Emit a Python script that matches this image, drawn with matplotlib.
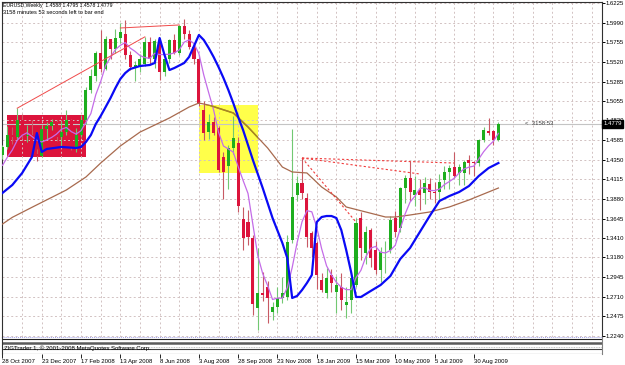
import numpy as np
import pandas as pd
import matplotlib
matplotlib.use("Agg")
import matplotlib.pyplot as plt
from matplotlib import font_manager as fm
from matplotlib.patches import Rectangle

# --- weekly EURUSD bars ---
opens = [
    1.4410, 1.4500, 1.4640, 1.4620, 1.4820, 1.4630, 1.4650, 1.4420, 1.4390, 1.4720,
    1.4750, 1.4800, 1.4620, 1.4680, 1.4830, 1.4500, 1.4650, 1.4830, 1.5180, 1.5350,
    1.5630, 1.5430, 1.5790, 1.5680, 1.5810, 1.5850, 1.5600, 1.5460, 1.5470, 1.5490,
    1.5760, 1.5550, 1.5770, 1.5400, 1.5560, 1.5780, 1.5630, 1.5950, 1.5860, 1.5700,
    1.5560, 1.4940, 1.4680, 1.4800, 1.4730, 1.4380, 1.4280, 1.4490, 1.4550, 1.3640,
    1.3600, 1.3410, 1.2575, 1.2750, 1.2826, 1.2530, 1.2590, 1.2700, 1.2710, 1.3390,
    1.3927, 1.4070, 1.3890, 1.3470, 1.3350, 1.2910, 1.2750, 1.2970, 1.2770, 1.2826,
    1.2615, 1.2670, 1.2850, 1.3650, 1.3233, 1.3510, 1.3270, 1.3030, 1.3240, 1.3270,
    1.3650, 1.3530, 1.4010, 1.4130, 1.3930, 1.3990, 1.3950, 1.4060, 1.3960, 1.3960,
    1.4110, 1.4200, 1.4260, 1.4190, 1.4190, 1.4346, 1.4325, 1.4310, 1.4590, 1.4690,
    1.4690, 1.4588,
]
highs = [
    1.4530, 1.4750, 1.4740, 1.4966, 1.4900, 1.4760, 1.4830, 1.4480, 1.4760, 1.4800,
    1.4840, 1.4830, 1.4810, 1.4950, 1.4840, 1.4730, 1.4885, 1.5220, 1.5440, 1.5650,
    1.5905, 1.5830, 1.5800, 1.5910, 1.5990, 1.6020, 1.5650, 1.5530, 1.5620, 1.5820,
    1.5820, 1.5800, 1.5780, 1.5590, 1.5800, 1.5850, 1.5960, 1.6038, 1.5900, 1.5750,
    1.5600, 1.5050, 1.4900, 1.4860, 1.4750, 1.4440, 1.4520, 1.4870, 1.4620, 1.3780,
    1.3750, 1.3450, 1.3290, 1.3000, 1.2900, 1.2650, 1.2830, 1.2950, 1.3450, 1.4720,
    1.4150, 1.4370, 1.3950, 1.3500, 1.3380, 1.2990, 1.3050, 1.3040, 1.2960, 1.2990,
    1.2830, 1.3010, 1.3650, 1.3720, 1.3560, 1.3530, 1.3380, 1.3300, 1.3380, 1.3680,
    1.3740, 1.4020, 1.4170, 1.4330, 1.4150, 1.4120, 1.4140, 1.4130, 1.4080, 1.4180,
    1.4280, 1.4290, 1.4445, 1.4300, 1.4350, 1.4410, 1.4340, 1.4600, 1.4740, 1.4850,
    1.4710, 1.4795,
]
lows = [
    1.4360, 1.4480, 1.4540, 1.4600, 1.4600, 1.4560, 1.4410, 1.4340, 1.4380, 1.4600,
    1.4700, 1.4570, 1.4500, 1.4640, 1.4470, 1.4440, 1.4620, 1.4780, 1.5150, 1.5290,
    1.5400, 1.5420, 1.5560, 1.5630, 1.5750, 1.5560, 1.5420, 1.5290, 1.5400, 1.5470,
    1.5490, 1.5450, 1.5300, 1.5350, 1.5510, 1.5620, 1.5600, 1.5800, 1.5680, 1.5500,
    1.4990, 1.4580, 1.4600, 1.4640, 1.4200, 1.3880, 1.4000, 1.4420, 1.3720, 1.3270,
    1.3330, 1.2490, 1.2312, 1.2660, 1.2400, 1.2430, 1.2520, 1.2640, 1.2670, 1.3350,
    1.3850, 1.3880, 1.3300, 1.3180, 1.2800, 1.2770, 1.2700, 1.2770, 1.2515, 1.2550,
    1.2455, 1.2520, 1.2830, 1.3150, 1.3100, 1.3070, 1.2980, 1.2890, 1.2990, 1.3230,
    1.3430, 1.3480, 1.3830, 1.3860, 1.3800, 1.3750, 1.3820, 1.3880, 1.3830, 1.3850,
    1.4000, 1.4000, 1.4130, 1.4050, 1.4050, 1.4180, 1.4150, 1.4270, 1.4560, 1.4640,
    1.4530, 1.4578,
]
closes = [
    1.4500, 1.4640, 1.4620, 1.4820, 1.4630, 1.4650, 1.4420, 1.4390, 1.4720, 1.4750,
    1.4800, 1.4620, 1.4680, 1.4830, 1.4500, 1.4650, 1.4830, 1.5180, 1.5350, 1.5630,
    1.5430, 1.5790, 1.5680, 1.5810, 1.5880, 1.5600, 1.5460, 1.5480, 1.5560, 1.5760,
    1.5550, 1.5770, 1.5400, 1.5560, 1.5780, 1.5630, 1.5950, 1.5860, 1.5700, 1.5560,
    1.5020, 1.4670, 1.4800, 1.4670, 1.4230, 1.4200, 1.4490, 1.4610, 1.3800, 1.3410,
    1.3420, 1.2620, 1.2750, 1.2730, 1.2695, 1.2590, 1.2700, 1.2750, 1.3360, 1.3900,
    1.4070, 1.3950, 1.3420, 1.3290, 1.2970, 1.2790, 1.2930, 1.2875, 1.2850, 1.2670,
    1.2650, 1.2930, 1.3590, 1.3290, 1.3480, 1.3170, 1.3030, 1.3240, 1.3250, 1.3628,
    1.3480, 1.4010, 1.4130, 1.3960, 1.3990, 1.3930, 1.4070, 1.3960, 1.3950, 1.4080,
    1.4200, 1.4250, 1.4160, 1.4265, 1.4320, 1.4310, 1.4310, 1.4590, 1.4700, 1.4669,
    1.4588, 1.4779,
]

# fast average (violet), one value per bar
violet = [
    1.4282, 1.4380, 1.4466, 1.4582, 1.4642, 1.4672, 1.4628, 1.4582, 1.4562, 1.4586,
    1.4616, 1.4656, 1.4714, 1.4736, 1.4686, 1.4656, 1.4698, 1.4798, 1.4902, 1.5128,
    1.5284, 1.5476, 1.5576, 1.5668, 1.5718, 1.5752, 1.5686, 1.5646, 1.5596, 1.5572,
    1.5562, 1.5624, 1.5608, 1.5608, 1.5612, 1.5628, 1.5664, 1.5756, 1.5784, 1.5740,
    1.5618, 1.5362, 1.5150, 1.4944, 1.4678, 1.4514, 1.4478, 1.4440, 1.4266, 1.4102,
    1.3946, 1.3572, 1.3200, 1.2986, 1.2843, 1.2677, 1.2693, 1.2693, 1.2819, 1.3060,
    1.3356, 1.3606, 1.3740, 1.3726, 1.3540, 1.3284, 1.3080, 1.2971, 1.2883, 1.2823,
    1.2795, 1.2795, 1.2938, 1.3026, 1.3188, 1.3292, 1.3312, 1.3242, 1.3234, 1.3264,
    1.3326, 1.3522, 1.3700, 1.3842, 1.3914, 1.4004, 1.4016, 1.3982, 1.3980, 1.3998,
    1.4052, 1.4088, 1.4128, 1.4191, 1.4239, 1.4261, 1.4273, 1.4359, 1.4446, 1.4516,
    1.4571, 1.4665,
]

# blue indicator, read at these bars
blue_bars = [0, 2, 4, 6, 7, 8, 9, 12, 15, 16, 17, 18, 19, 20, 21, 22, 23, 24, 25, 26,
             28, 30, 31, 32, 33, 34, 35, 37, 38, 39, 40, 41, 42, 43, 44, 45, 46, 47,
             48, 49, 50, 51, 53, 55, 57, 58, 59, 60, 61, 62, 63, 64, 65, 66, 67, 68,
             69, 70, 71, 72, 73, 74, 75, 77, 79, 81, 83, 85, 87, 89, 91, 93, 95, 97,
             99, 101]
blue_vals = [1.3952, 1.4047, 1.4190, 1.4382, 1.4669, 1.4442, 1.4478, 1.4502, 1.4490,
             1.4502, 1.4562, 1.4645, 1.4777, 1.4873, 1.4980, 1.5088, 1.5208, 1.5316,
             1.5387, 1.5435, 1.5471, 1.5483, 1.5507, 1.5806, 1.5603, 1.5423, 1.5447,
             1.5507, 1.5579, 1.5710, 1.5842, 1.5782, 1.5686, 1.5579, 1.5459, 1.5328,
             1.5184, 1.5028, 1.4861, 1.4705, 1.4526, 1.4346, 1.4010, 1.3652, 1.3353,
             1.3173, 1.2695, 1.2719, 1.2790, 1.2874, 1.2970, 1.3604, 1.3664, 1.3676,
             1.3676, 1.3652, 1.3508, 1.3269, 1.3006, 1.2707, 1.2707, 1.2743, 1.2779,
             1.2850, 1.2958, 1.3161, 1.3293, 1.3485, 1.3676, 1.3856, 1.3915, 1.3963,
             1.4035, 1.4155, 1.4250, 1.4310]

# slow average (brown)
brown_bars = [0, 2, 6, 13, 17, 20, 24, 28, 34, 38, 40, 42, 47, 50, 54, 57, 59, 62,
              65, 68, 70, 74, 78, 80, 83, 87, 91, 95, 101]
brown_vals = [1.3580, 1.3660, 1.3780, 1.3987, 1.4143, 1.4310, 1.4514, 1.4680, 1.4849,
              1.4980, 1.5028, 1.5004, 1.4909, 1.4741, 1.4490, 1.4262, 1.4203, 1.4191,
              1.4023, 1.3903, 1.3784, 1.3724, 1.3664, 1.3664, 1.3688, 1.3724, 1.3784,
              1.3868, 1.4011]

# drawn objects
red_zone_bars, red_zone_prices = [1, 17], [1.4382, 1.4885]
yellow_zone_bars, yellow_zone_prices = [40, 52], [1.4191, 1.5004]
trend_a_bars, trend_a_prices = [3, 29], [1.4966, 1.5820]
trend_b_bars, trend_b_prices = [24, 36], [1.5926, 1.5962]
fan_origin_bar, fan_origin_price = 61, 1.4370
fan_end_bars = [92, 85, 72]
fan_end_prices = [1.4310, 1.4179, 1.3604]

bid = 1.4779
price_ticks = [1.6225, 1.5990, 1.5755, 1.5520, 1.5285, 1.5055, 1.4820, 1.4585, 1.4350,
               1.4115, 1.3880, 1.3645, 1.3410, 1.3180, 1.2945, 1.2710, 1.2475, 1.2240]
bar_dates = pd.date_range("2007-10-28", periods=len(closes), freq="7D")


def pick_font(names):
    for name in names:
        try:
            fm.findfont(fm.FontProperties(family=name), fallback_to_default=False)
            return name
        except ValueError:
            pass
    return "DejaVu Sans"


plt.rcParams["font.family"] = [pick_font(["Liberation Sans Narrow", "Arial Narrow",
                                          "Liberation Sans"]), "DejaVu Sans"]
FS = 4.3

W, H = 625, 365
fig = plt.figure(figsize=(W / 100, H / 100), dpi=100, facecolor="white")


def px_box(x0, y0, x1, y1):
    return [x0 / W, 1 - y1 / H, (x1 - x0) / W, (y1 - y0) / H]


BAR_PX = 4.91
PRICE_PX = 0.0011967
XLIM = (-0.1, (602 - 2.5) / BAR_PX)

ax = fig.add_axes(px_box(2, 2, 602, 337))
ax2 = fig.add_axes(px_box(2, 337, 602, 354))

o, h, l, c = map(np.array, (opens, highs, lows, closes))
idx = np.arange(len(c))
up = c >= o

GREEN, RED = "#1EAE1E", "#DC143C"

# background objects
for bars, prices, col in [(red_zone_bars, red_zone_prices, RED),
                          (yellow_zone_bars, yellow_zone_prices, "#FFFF4A")]:
    ax.add_patch(Rectangle((bars[0], prices[0]), bars[1] - bars[0], prices[1] - prices[0],
                           facecolor=col, edgecolor="none", zorder=0.5))
yellow_patch = ax.patches[-1]

# grid
grid_kw = dict(color="#D2C2C2", lw=0.7, ls=(0, (2, 2.5)), zorder=1)
for p in price_ticks:
    ax.axhline(p, **grid_kw)
for b in range(0, 124, 4):
    ax.axvline(b, **grid_kw)
ax.axhline(bid, color="#C4C4C4", lw=0.8, zorder=1.5)

# candles
ax.vlines(idx[up], l[up], h[up], color="#72C872", lw=0.8, zorder=3)
ax.vlines(idx[~up], l[~up], h[~up], color="#C85A64", lw=0.8, zorder=3)
body_lo = np.minimum(o, c)
body_h = np.maximum(np.abs(c - o), 0.0009)
ax.bar(idx, body_h, bottom=body_lo, width=0.62, color=np.where(up, GREEN, RED),
       linewidth=0, zorder=4)

# indicator lines
ax.plot(brown_bars, brown_vals, color="#A86A4E", lw=0.9, zorder=5)
olive, = ax.plot(brown_bars, brown_vals, color="#A88A1E", lw=1.1, zorder=5.1)
olive.set_clip_path(yellow_patch)
ax.plot(idx, violet, color="#C46CE8", lw=0.9, zorder=5)
ax.plot(blue_bars, blue_vals, color="#0A0AF5", lw=1.6, zorder=6)

# trend lines
ax.plot(trend_a_bars, trend_a_prices, color="#F04A4A", lw=0.7, zorder=6)
ax.plot(trend_b_bars, trend_b_prices, color="#F04A4A", lw=0.7, zorder=6)
for eb, ep in zip(fan_end_bars, fan_end_prices):
    ax.plot([fan_origin_bar, eb], [fan_origin_price, ep], color="#F03C3C", lw=0.8,
            ls=(0, (2, 2)), zorder=6)

ax.set_xlim(*XLIM)
ax.set_ylim(1.2240 - PRICE_PX, 1.6225 + PRICE_PX)
ax.set_xticks([])
ax.yaxis.tick_right()
ax.set_yticks(price_ticks)
ax.set_yticklabels([f"{p:.4f}" for p in price_ticks])
ax.tick_params(axis="y", length=2, width=0.7, pad=0.8, labelsize=FS, colors="black")
for side in ("left", "top", "right"):
    ax.spines[side].set_color("#303030")
    ax.spines[side].set_linewidth(0.8)
ax.spines["bottom"].set_visible(False)

ax.text(106.4, bid, "<  3158:53", fontsize=FS, color="#404040", va="center", ha="left",
        zorder=7)
ax.text(1.002, bid, f"{bid:.4f}", transform=ax.get_yaxis_transform(), fontsize=FS,
        color="white", ha="left", va="center", clip_on=False, zorder=8,
        bbox=dict(boxstyle="square,pad=0.2", fc="black", ec="black"))

# indicator sub-window
ax2.set_xlim(*XLIM)
ax2.set_ylim(354, 337)
ax2.set_yticks([])
ax2.axhline(337.3, color="#A0A0E8", lw=0.7, ls=(0, (1, 1)))
ax2.axhline(338.5, color="#202020", lw=0.8)
ax2.axhline(343, color="#5A5A5A", lw=1.8)
ax2.axhline(347, color="#B0B0B0", lw=0.6, ls=(0, (1, 1)))
ax2.axhline(349.3, color="#404040", lw=0.8)
ax2.axhline(353.6, color="#404040", lw=0.8)
ax2.text(0.3, 348.2, "ZIGTrader 1, \u00a9 2001-2008 MetaQuotes Software Corp.",
         fontsize=FS, va="center", ha="left", color="black")
for side in ("top", "bottom"):
    ax2.spines[side].set_visible(False)
ax2.spines["left"].set_color("#303030")
ax2.spines["right"].set_color("#808080")
tick_bars = idx[::8]
ax2.set_xticks(tick_bars)
ax2.set_xticklabels([f"{d.day} {d:%b %Y}" for d in bar_dates[tick_bars]], ha="left")
ax2.tick_params(axis="x", length=3, width=0.6, pad=0.6, labelsize=FS)

fig.text(3 / W, 1 - 3 / H, "EURUSD,Weekly  1.4588 1.4795 1.4578 1.4779", fontsize=3.7,
         va="top", ha="left")
fig.text(3 / W, 1 - 10.5 / H, "3158 minutes 53 seconds left to bar end", fontsize=4.1,
         va="top", ha="left")

fig.savefig("out.png", dpi=100, facecolor="white")
